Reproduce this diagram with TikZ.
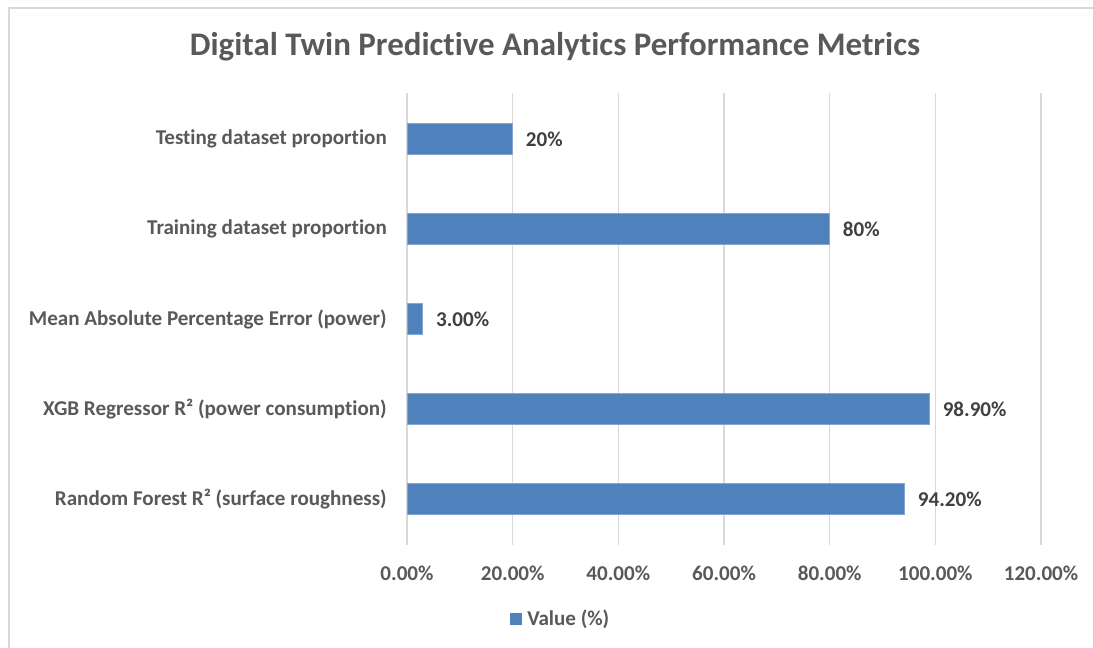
\documentclass[tikz,border=0pt]{standalone}
\usepackage{fontspec}
\setmainfont[Ligatures=NoCommon,Contextuals=NoAlternate]{Carlito}
\definecolor{barblue}{HTML}{4F81BD}
\definecolor{txtgray}{HTML}{595959}
\definecolor{lblgray}{HTML}{404040}
\definecolor{gridgray}{HTML}{D9D9D9}
\begin{document}
\begin{tikzpicture}[x=0.75pt,y=-0.75pt,
  smallfont/.style={font=\bfseries\fontsize{15.8}{19}\selectfont},
  catlabel/.style={smallfont,anchor=east,inner sep=0pt,text=txtgray},
  datalabel/.style={smallfont,anchor=west,inner sep=0pt,text=lblgray},
  ticklabel/.style={smallfont,anchor=center,inner sep=0pt,text=txtgray},
  barbox/.style={fill=barblue,draw=barblue!70!white,line width=0.6pt},
  gridline/.style={draw=gridgray,line width=1.2pt}]
\useasboundingbox (0,0) rectangle (1093,648);
\fill[white] (0,0) rectangle (1093,648);
\draw[gridgray,line width=1.8pt] (9,648) -- (9,8) -- (1093,8);
% title
\node[anchor=center,inner sep=0pt,text=txtgray,font=\bfseries\fontsize{24.7}{29}\selectfont] (title) at (555,47) {Digital Twin Predictive Analytics Performance Metrics};
% gridlines and ticks
\foreach \i/\t in {0/0.00\%,1/20.00\%,2/40.00\%,3/60.00\%,4/80.00\%,5/100.00\%,6/120.00\%}{
  \draw[gridline] (407+105.67*\i,93) -- (407+105.67*\i,545);
  \node[ticklabel] (tick\i) at (407+105.67*\i,573) {\t};
}
% bars
\foreach \n/\v/\yc/\c/\d in {
  test/20/139/Testing dataset proportion/20\%,
  train/80/229/Training dataset proportion/80\%,
  mape/3/319/Mean Absolute Percentage Error (power)/3.00\%,
  xgb/98.9/409/XGB Regressor R² (power consumption)/98.90\%,
  rf/94.2/499/Random Forest R² (surface roughness)/94.20\%}{
  \fill[barbox] (407,\yc-15.5) rectangle (407+5.2835*\v,\yc+15.5);
  \node[catlabel] (cat\n) at (387,\yc) {\c};
  \node[datalabel] (val\n) at (407+5.2835*\v+13,\yc) {\d};
}
% legend
\fill[barblue] (510,613) rectangle (521.5,624.5);
\node[smallfont,anchor=west,inner sep=0pt,text=txtgray] (legend) at (527,619) {Value (\%)};
\end{tikzpicture}
\end{document}
